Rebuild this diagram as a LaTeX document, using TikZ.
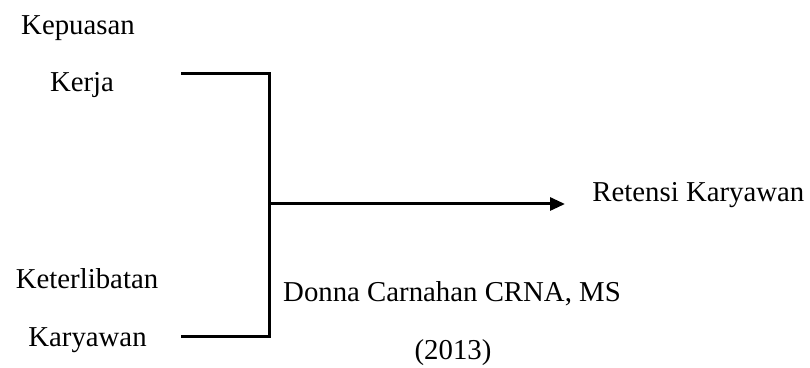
\documentclass[tikz,border=0pt]{standalone}
\usepackage{fontspec}
\setmainfont{Liberation Serif}
\usetikzlibrary{arrows.meta}

\begin{document}
\begin{tikzpicture}[x=0.5pt, y=-0.5pt,
    every node/.style={inner sep=0pt, anchor=base, font=\fontsize{14.4}{17}\selectfont},
    bracket/.style={line width=1.5pt}]
     \useasboundingbox (0,0) rectangle (810,368);

     \node (kep) at (78,35) {Kepuasan};
     \node (kerja) at (82,92) {Kerja};
     \node (keter) at (87,289) {Keterlibatan};
     \node (kary) at (87.5,347) {Karyawan};
     \node[anchor=base west] (ret) at (592,202) {Retensi Karyawan};
     \node (donna) at (452,302) {Donna Carnahan CRNA, MS};
     \node (year) at (453,360) {(2013)};

     \coordinate (topL) at (181,74);
     \coordinate (topR) at (269,74);
     \coordinate (botL) at (181,337);
     \coordinate (botR) at (269,337);
     \coordinate (mid) at (269,204);
     \coordinate (tip) at (565,204);

     \draw[bracket] (topL) -- (topR) -- (botR) -- (botL);
     \draw[bracket, -{Triangle[length=7.5pt, width=6.5pt]}] (mid) -- (tip);
 \end{tikzpicture}
\end{document}
